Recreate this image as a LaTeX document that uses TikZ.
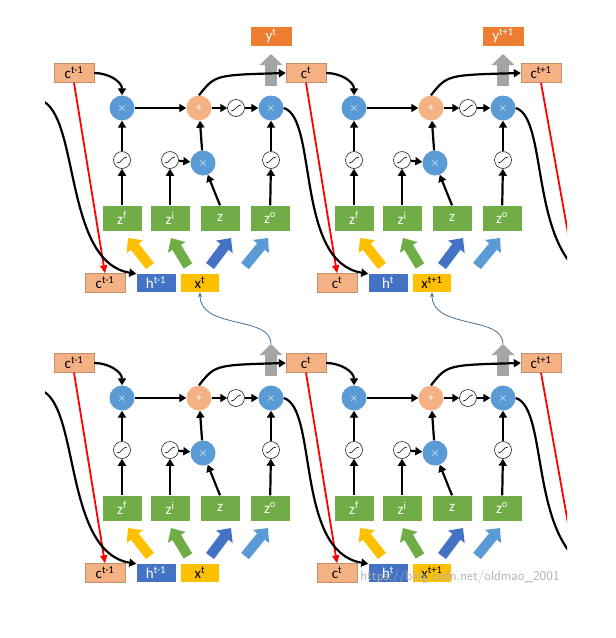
\documentclass[tikz,border=0pt]{standalone}
\usepackage{fontspec}
\setmainfont{Carlito}
\usetikzlibrary{arrows.meta}
\definecolor{salmon}{HTML}{F4B183}
\definecolor{cblue}{HTML}{5B9BD5}
\definecolor{cgreen}{HTML}{70AD47}
\definecolor{hblue}{HTML}{4472C4}
\definecolor{xyel}{HTML}{FFC000}
\definecolor{yor}{HTML}{ED7D31}
\definecolor{gry}{HTML}{A5A5A5}
\definecolor{arrblue}{HTML}{41719C}
\tikzset{
 cbox/.style={draw=salmon!80!black,line width=0.4pt,fill=salmon,minimum width=40pt,minimum height=19pt,inner sep=0pt,font=\fontsize{15}{15}\selectfont},
 hbox/.style={fill=hblue,text=white,minimum width=39pt,minimum height=18pt,inner sep=0pt,font=\fontsize{15}{15}\selectfont},
 xbox/.style={fill=xyel,minimum width=38pt,minimum height=18pt,inner sep=0pt,font=\fontsize{15}{15}\selectfont},
 ybox/.style={fill=yor,text=white,minimum width=41pt,minimum height=19pt,inner sep=0pt,font=\fontsize{15}{15}\selectfont},
 zbox/.style={fill=cgreen,text=white,minimum width=39pt,minimum height=25pt,inner sep=0pt,font=\fontsize{15}{15}\selectfont},
 mult/.style={circle,fill=cblue,text=white,minimum size=25pt,inner sep=0pt,font=\fontsize{12}{12}\selectfont},
 plus/.style={circle,fill=salmon,text=white,minimum size=25pt,inner sep=0pt,font=\fontsize{12}{12}\selectfont},
 sig/.style={circle,draw=black,line width=0.5pt,fill=white,minimum size=17pt,inner sep=0pt,
   path picture={\draw[line width=0.6pt] ([xshift=-5pt,yshift=-3pt]path picture bounding box.center) .. controls +(5,0) and +(-5,0) .. ([xshift=5pt,yshift=3pt]path picture bounding box.center);}},
 ar/.style={line width=2.2pt,-{Triangle[length=7pt,width=8pt]}},
 red/.style={draw=red,line width=1.8pt,-{Triangle[length=8pt,width=7pt]}},
 fat/.style={line width=10pt,-{Triangle[length=11pt,width=20pt]}},
 gfat/.style={gry,line width=12pt,-{Triangle[length=11pt,width=22pt]}},
 thin/.style={draw=arrblue,line width=0.8pt,-{Stealth[length=5pt,width=4pt]}},
}
\newcommand\lstmcell[7]{%
\begin{scope}[shift={(#2,#3)}]
\node[cbox] (#1cin) at (74,73) {c\textsuperscript{#4}};
\node[mult] (#1m1) at (122,108) {$\times$};
\node[plus] (#1p) at (199,108) {+};
\node[sig] (#1s) at (236,108) {};
\node[mult] (#1m3) at (271,108) {$\times$};
\node[sig] (#1sf) at (122,160) {};
\node[sig] (#1si) at (170,160) {};
\node[sig] (#1so) at (271,160) {};
\node[mult] (#1m2) at (203,163) {$\times$};
\node[zbox] (#1zf) at (122,218) {z\textsuperscript{f}};
\node[zbox] (#1zi) at (170,218) {z\textsuperscript{i}};
\node[zbox] (#1z) at (220,218) {z};
\node[zbox] (#1zo) at (270,218) {z\textsuperscript{o}};
\node[cbox] (#1cb) at (105,283) {c\textsuperscript{#5}};
\node[hbox] (#1h) at (156,283) {h\textsuperscript{#6}};
\node[xbox] (#1x) at (200,283) {x\textsuperscript{#7}};
\coordinate (#1ga) at (271,86);
\coordinate (#1gb) at (271,54);
\draw[gfat] (#1ga) -- (#1gb);
\coordinate (#1a1) at (150,266); \coordinate (#1b1) at (128,238);
\coordinate (#1a2) at (188,266); \coordinate (#1b2) at (171,238);
\coordinate (#1a3) at (210,266); \coordinate (#1b3) at (231,238);
\coordinate (#1a4) at (245,266); \coordinate (#1b4) at (268,238);
\draw[fat,xyel] (#1a1) -- (#1b1);
\draw[fat,cgreen] (#1a2) -- (#1b2);
\draw[fat,hblue] (#1a3) -- (#1b3);
\draw[fat,cblue] (#1a4) -- (#1b4);
\draw[ar] (#1zf) -- (#1sf);
\draw[ar] (#1sf) -- (#1m1);
\draw[ar] (#1zi) -- (#1si);
\draw[ar] (#1si) -- (#1m2);
\draw[ar] (#1z.north) -- (#1m2);
\draw[ar] (#1m2) -- (#1p);
\draw[ar] (#1zo) -- (#1so);
\draw[ar] (#1so) -- (#1m3);
\draw[ar] (#1m1) -- (#1p);
\draw[ar] (#1p) -- (#1s);
\draw[ar] (#1s) -- (#1m3);
\draw[ar] (#1cin.east) to[out=0,in=90] (#1m1.north);
\draw[red] (#1cin.south) -- (#1cb.north);
\end{scope}}
\begin{document}
\begin{tikzpicture}[x=1pt,y=-1pt]
\useasboundingbox (0,0) rectangle (616,638);
\fill[white] (0,0) rectangle (616,638);
\begin{scope}
\clip (45,0) rectangle (567,638);
\lstmcell{A}{0}{0}{t-1}{t-1}{t-1}{t}
\lstmcell{B}{232}{0}{t}{t}{t}{t+1}
\lstmcell{C}{0}{290}{t-1}{t-1}{t-1}{t}
\lstmcell{D}{232}{290}{t}{t}{t}{t+1}
\node[ybox] (Ay) at (271,36) {y\textsuperscript{t}};
\node[ybox] (By) at (503,36) {y\textsuperscript{t+1}};
\node[cbox] (Bco) at (541,73) {c\textsuperscript{t+1}};
\node[cbox] (Dco) at (541,363) {c\textsuperscript{t+1}};
\coordinate (Ee) at (600,283);
\coordinate (Fe) at (600,573);
\coordinate (Bend) at (580,300);
\coordinate (Dend) at (580,590);
\draw[ar] (Ap.north) .. controls (215,75) .. (Bcin.west);
\draw[ar] (Bp.north) .. controls (447,75) .. (Bco.west);
\draw[ar] (Cp.north) .. controls (215,365) .. (Dcin.west);
\draw[ar] (Dp.north) .. controls (447,365) .. (Dco.west);
\draw[draw=red,line width=1.8pt] (Bco.south) -- (Bend);
\draw[draw=red,line width=1.8pt] (Dco.south) -- (Dend);
\draw[ar] (Am3.east) .. controls (318,118) and (295,262) .. (Bh.north west);
\draw[ar] (Cm3.east) .. controls (318,408) and (295,552) .. (Dh.north west);
\draw[line width=2.2pt] (Bm3.east) .. controls (550,118) and (527,262) .. (Ee);
\draw[line width=2.2pt] (Dm3.east) .. controls (550,408) and (527,552) .. (Fe);
\draw[ar] (40,100) .. controls (80,112) and (63,262) .. (Ah.north west);
\draw[ar] (40,390) .. controls (80,402) and (63,552) .. (Ch.north west);
\draw[thin] (Cgb) .. controls (271,315) and (200,330) .. (Ax.south);
\draw[thin] (Dgb) .. controls (503,315) and (432,330) .. (Bx.south);
\end{scope}
\node[text=gray!60,font=\sffamily\fontsize{13.5}{13.5}\selectfont] (wm) at (460,577) {https://blog.csdn.net/oldmao\_2001};
\end{tikzpicture}
\end{document}
